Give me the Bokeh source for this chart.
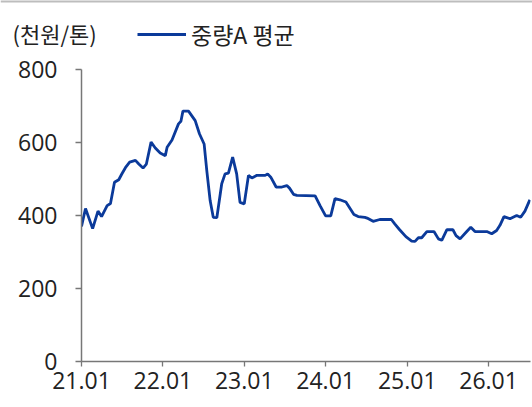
import pandas as pd
from bokeh.plotting import figure
from bokeh.layouts import column
from bokeh.models import (Range1d, FixedTicker, DatetimeTickFormatter, Label, Span,
                          Legend, LegendItem, ColumnDataSource)
from bokeh.embed import file_html
from bokeh.resources import INLINE

dates = [
    "2021-01-01", "2021-01-19", "2021-02-20", "2021-03-16", "2021-04-01", "2021-04-26",
    "2021-05-11", "2021-05-29", "2021-06-17", "2021-07-02", "2021-07-17", "2021-08-05",
    "2021-08-31", "2021-09-15", "2021-10-04", "2021-10-19", "2021-11-09", "2021-11-28",
    "2021-12-20", "2022-01-12", "2022-01-20", "2022-02-11", "2022-03-12", "2022-03-23",
    "2022-04-01", "2022-04-26", "2022-05-26", "2022-06-14", "2022-07-05", "2022-07-17",
    "2022-08-01", "2022-08-15", "2022-08-31", "2022-09-22", "2022-10-07", "2022-10-22",
    "2022-11-10", "2022-11-28", "2022-12-13", "2023-01-01", "2023-01-20", "2023-02-04",
    "2023-02-27", "2023-04-05", "2023-04-16", "2023-04-30", "2023-05-24", "2023-06-19",
    "2023-07-11", "2023-07-23", "2023-08-10", "2023-08-25", "2023-11-15", "2023-12-07",
    "2024-01-01", "2024-01-24", "2024-02-12", "2024-03-05", "2024-04-01", "2024-05-07",
    "2024-05-26", "2024-06-25", "2024-07-05", "2024-08-01", "2024-08-31", "2024-10-22",
    "2024-11-06", "2024-11-28", "2024-12-26", "2025-01-21", "2025-02-05", "2025-02-20",
    "2025-03-07", "2025-03-30", "2025-05-01", "2025-05-21", "2025-06-05", "2025-06-28",
    "2025-07-25", "2025-08-08", "2025-08-26", "2025-09-22", "2025-10-13", "2025-11-01",
    "2025-12-24", "2026-01-15", "2026-02-06", "2026-02-21", "2026-03-11", "2026-04-07",
    "2026-05-07", "2026-05-25", "2026-06-13", "2026-07-05",
]
values = [
    370, 419, 364, 412, 397, 427,
    433, 491, 498, 515, 531, 546,
    551, 541, 530, 541, 601, 585,
    571, 564, 587, 607, 651, 658,
    686, 686, 660, 624, 596, 523,
    441, 395, 394, 487, 514, 516,
    560, 514, 436, 432, 510, 503,
    510, 510, 514, 505, 478, 478,
    482, 475, 458, 455, 454, 427,
    399, 399, 446, 443, 437, 403,
    397, 395, 393, 384, 389, 389,
    377, 361, 342, 330, 329, 339,
    339, 356, 356, 336, 332, 361,
    361, 345, 336, 354, 368, 356,
    356, 350, 359, 373, 397, 391,
    400, 395, 412, 443,
]
tick_dates = ["2021-01-01", "2022-01-01", "2023-01-01", "2024-01-01", "2025-01-01", "2026-01-01"]
y_ticks = [0, 200, 400, 600, 800]
series_name = "중량A 평균"
unit_text = "(천원/톤)"

LINE_COLOR = "#0b3a9a"
LINE_W = 2.8
FONT = "Open Sans"
KFONT = "Noto Sans CJK KR"
TXT = "#222222"
AX = "#777777"

x = pd.to_datetime(dates)
src = ColumnDataSource(dict(x=x, y=values))
tick_ms = [pd.Timestamp(d).value // 10**6 for d in tick_dates]

# ---- header (unit + legend) ----
HEAD_H = 53
head = figure(width=532, height=HEAD_H, x_axis_type=None, y_axis_type=None,
              output_backend="svg", toolbar_location=None,
              min_border=0, min_border_left=0, min_border_right=0,
              min_border_top=0, min_border_bottom=0)
head.frame_align = False
head.outline_line_color = None
head.xgrid.visible = False
head.ygrid.visible = False
head.x_range = Range1d(0, 1)
head.y_range = Range1d(0, 1)
# thin grey rule along the very top of the page
head.add_layout(Span(location=1, dimension="width", line_color="#bdbdbd", line_width=4))
# legend-only renderer (no visible points in the header)
dummy = head.line(x=[float("nan")], y=[float("nan")], line_color=LINE_COLOR, line_width=LINE_W)
head.add_layout(Label(x=12, y=HEAD_H - 32, x_units="screen", y_units="screen",
                      text=unit_text, text_font=KFONT, text_font_size="22px",
                      text_color=TXT, text_baseline="middle", text_align="left"))
legend = Legend(items=[LegendItem(label=series_name, renderers=[dummy])],
                location=(137, 2), orientation="horizontal",
                glyph_width=49, glyph_height=20, label_standoff=5,
                padding=0, margin=0, spacing=0,
                border_line_color=None, background_fill_alpha=0,
                label_text_font=KFONT, label_text_font_size="23px",
                label_text_color=TXT)
head.add_layout(legend, "center")

# ---- main chart ----
p = figure(width=532, height=407 - HEAD_H, x_axis_type="datetime",
           output_backend="svg", toolbar_location=None,
           min_border_left=81, min_border_right=2, min_border_top=69 - HEAD_H,
           min_border_bottom=46)
p.frame_align = False
p.x_range = Range1d(pd.Timestamp("2021-01-01"), pd.Timestamp("2026-07-08"))
p.y_range = Range1d(0, 800)

p.line("x", "y", source=src, line_color=LINE_COLOR, line_width=LINE_W)

p.xgrid.visible = False
p.ygrid.visible = False
p.outline_line_color = None

for ax in (p.xaxis[0], p.yaxis[0]):
    ax.axis_line_color = AX
    ax.axis_line_width = 1.5
    ax.major_tick_line_color = AX
    ax.major_tick_line_width = 1.3
    ax.minor_tick_line_color = None
    ax.major_label_text_font = FONT
    ax.major_label_text_font_size = "23px"
    ax.major_label_text_color = TXT

p.xaxis[0].ticker = FixedTicker(ticks=tick_ms)
p.xaxis[0].formatter = DatetimeTickFormatter(days="%y.%m", months="%y.%m", years="%y.%m")
p.xaxis[0].major_tick_in = 0
p.xaxis[0].major_tick_out = 5
p.xaxis[0].major_label_standoff = 5

p.yaxis[0].ticker = FixedTicker(ticks=y_ticks)
p.yaxis[0].major_tick_in = 0
p.yaxis[0].major_tick_out = 6
p.yaxis[0].major_label_standoff = 18

layout = column(head, p, spacing=0)
open("out.html", "w").write(file_html(layout, INLINE))
